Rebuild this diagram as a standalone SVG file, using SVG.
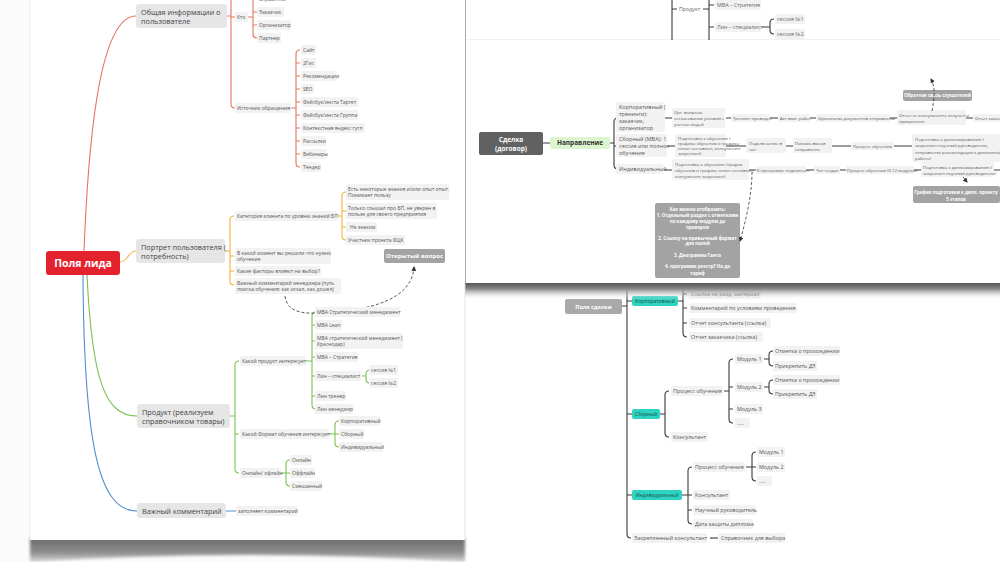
<svg xmlns="http://www.w3.org/2000/svg" width="1000" height="562" viewBox="0 0 1000 562">
<defs>
<style>
.t{font-family:"Open Sans","Liberation Sans",sans-serif}
.s5{font-size:5px;fill:#555}
.s43{font-size:4.3px;fill:#555}
.s53{font-size:5.3px;fill:#666}
.s55{font-size:5.5px;fill:#555}
.s58{font-size:5.4px;fill:#555}
.bg{fill:#f2f2f2}
.l1{fill:#e6e6e6}
.l1t{font-size:7.3px;fill:#444}
.gb{fill:#a3a3a3}
.wb{fill:#fff;font-weight:700;text-anchor:middle}
.teal{fill:#2fd3c1}
.tt{font-size:5px;fill:#1c4f4a;text-anchor:middle}
.cr{stroke:#e8765f;fill:none;stroke-width:1.1}
.cy{stroke:#f0b43c;fill:none;stroke-width:1.1}
.cg{stroke:#78c257;fill:none;stroke-width:1.1}
.cb{stroke:#4f8fcf;fill:none;stroke-width:1.1}
.ck{stroke:#3a3a3a;fill:none;stroke-width:1.1}
.dash{stroke:#333;fill:none;stroke-width:0.8;stroke-dasharray:3 2}
</style>
<marker id="arr" viewBox="0 0 10 10" refX="8" refY="5" markerWidth="6" markerHeight="6" orient="auto-start-reverse">
<path d="M0 0 L10 5 L0 10 z" fill="#333"/>
</marker>
<linearGradient id="shDown" x1="0" y1="0" x2="0" y2="1">
<stop offset="0" stop-color="#555"/>
<stop offset="0.35" stop-color="#8a8a8a"/>
<stop offset="1" stop-color="#fff" stop-opacity="0"/>
</linearGradient>
<linearGradient id="shPage" x1="0" y1="0" x2="0" y2="1">
<stop offset="0" stop-color="#6a6a6a"/>
<stop offset="0.6" stop-color="#8d8d8d"/>
<stop offset="1" stop-color="#d8d8d8"/>
</linearGradient>
<linearGradient id="shLeft" x1="0" y1="0" x2="1" y2="0">
<stop offset="0" stop-color="#fff" stop-opacity="0"/>
<stop offset="1" stop-color="#9a9a9a"/>
</linearGradient>
<filter id="blur" x="-5%" y="-50%" width="110%" height="200%"><feGaussianBlur stdDeviation="1.6"/></filter>
</defs>

<rect x="0" y="0" width="1000" height="562" fill="#fbfbfb"/>

<!-- ===== Bottom-right screenshot ===== -->
<g id="bottom-right">
<rect x="465" y="283" width="535" height="279" fill="#fff"/>
<g id="br-connectors" class="ck">
<path d="M622 306 H627 M627 283 V534 Q627 538 631 538 M627 301 H632 M627 414 H632 M627 495 H632"/>
<path d="M678 301 H683 M683 283 V333 Q683 337 687 337 M683 294 h4 M683 308 h4 M683 323 h4"/>
<path d="M660 414 H665 M669 391 Q665 391 665 395 V433 Q665 437 669 437"/>
<path d="M724 391 H729 M733 359 Q729 359 729 363 V419 Q729 423 733 423 M729 387 h4 M729 409 h4"/>
<path d="M764 359 H769 M773 351 Q769 351 769 355 V362 Q769 366 773 366"/>
<path d="M764 387 H769 M773 380 Q769 380 769 384 V390 Q769 394 773 394"/>
<path d="M682 495 H688 M692 467 Q688 467 688 471 V520 Q688 524 692 524 M688 495 h4 M688 510 h4"/>
<path d="M746 467 H752 M756 452 Q752 452 752 456 V477 Q752 481 756 481 M752 467 h4"/>
<path d="M710 538 H718"/>
</g>
<g id="n-pola-sdelki"><rect x="565" y="299" width="57" height="15" rx="2" fill="#a9a9a9"/><text class="t wb" x="593.5" y="308.5" font-size="5.5">Поля сделки</text></g>
<g id="n-br-korp"><rect class="teal" x="632" y="296" width="46" height="10" rx="2"/><text class="t tt" x="655" y="302.8">Корпоративный</text></g>
<g id="n-br-sbor"><rect class="teal" x="632" y="409" width="28" height="10" rx="2"/><text class="t tt" x="646" y="415.8">Сборный</text></g>
<g id="n-br-ind"><rect class="teal" x="632" y="490" width="50" height="10" rx="2"/><text class="t tt" x="657" y="496.8">Индивидуальный</text></g>
<g id="n-br-1"><rect class="bg" x="689" y="289" width="72" height="10" rx="1.5"/><text class="t s58" x="691" y="296">Ссылка на разд. материал</text></g>
<g id="n-br-2"><rect class="bg" x="689" y="303" width="108" height="10" rx="1.5"/><text class="t s58" x="691" y="310">Комментарий по условиям проведения</text></g>
<g id="n-br-3"><rect class="bg" x="689" y="318" width="82" height="10" rx="1.5"/><text class="t s58" x="691" y="325">Отчет консультанта (ссылка)</text></g>
<g id="n-br-4"><rect class="bg" x="689" y="332" width="74" height="10" rx="1.5"/><text class="t s58" x="691" y="339">Отчет заказчика (ссылка)</text></g>
<g id="n-br-5"><rect class="bg" x="671" y="386" width="52" height="10" rx="1.5"/><text class="t s58" x="673" y="393">Процесс обучения</text></g>
<g id="n-br-6"><rect class="bg" x="671" y="432" width="37" height="10" rx="1.5"/><text class="t s58" x="673" y="439">Консультант</text></g>
<g id="n-br-7"><rect class="bg" x="735" y="354" width="28" height="10" rx="1.5"/><text class="t s58" x="737" y="361">Модуль 1</text></g>
<g id="n-br-8"><rect class="bg" x="735" y="382" width="28" height="10" rx="1.5"/><text class="t s58" x="737" y="389">Модуль 2</text></g>
<g id="n-br-9"><rect class="bg" x="735" y="404" width="28" height="10" rx="1.5"/><text class="t s58" x="737" y="411">Модуль 3</text></g>
<g id="n-br-10"><rect class="bg" x="735" y="418" width="15" height="10" rx="1.5"/><text class="t s58" x="737" y="425">.....</text></g>
<g id="n-br-11"><rect class="bg" x="773" y="346" width="67" height="10" rx="1.5"/><text class="t s58" x="775" y="353">Отметка о прохождении</text></g>
<g id="n-br-12"><rect class="bg" x="773" y="361" width="44" height="10" rx="1.5"/><text class="t s58" x="775" y="368">Прикрепить ДЗ</text></g>
<g id="n-br-13"><rect class="bg" x="773" y="375" width="67" height="10" rx="1.5"/><text class="t s58" x="775" y="382">Отметка о прохождении</text></g>
<g id="n-br-14"><rect class="bg" x="773" y="389" width="44" height="10" rx="1.5"/><text class="t s58" x="775" y="396">Прикрепить ДЗ</text></g>
<g id="n-br-15"><rect class="bg" x="693" y="462" width="52" height="10" rx="1.5"/><text class="t s58" x="695" y="469">Процесс обучения</text></g>
<g id="n-br-16"><rect class="bg" x="757" y="447" width="28" height="10" rx="1.5"/><text class="t s58" x="759" y="454">Модуль 1</text></g>
<g id="n-br-17"><rect class="bg" x="757" y="462" width="28" height="10" rx="1.5"/><text class="t s58" x="759" y="469">Модуль 2</text></g>
<g id="n-br-18"><rect class="bg" x="757" y="476" width="15" height="10" rx="1.5"/><text class="t s58" x="759" y="483">.....</text></g>
<g id="n-br-19"><rect class="bg" x="693" y="490" width="37" height="10" rx="1.5"/><text class="t s58" x="695" y="497">Консультант</text></g>
<g id="n-br-20"><rect class="bg" x="693" y="505" width="63" height="10" rx="1.5"/><text class="t s58" x="695" y="512">Научный руководитель</text></g>
<g id="n-br-21"><rect class="bg" x="693" y="519" width="60" height="10" rx="1.5"/><text class="t s58" x="695" y="526">Дата защиты диплома</text></g>
<g id="n-br-22"><rect class="bg" x="632" y="533" width="75" height="10" rx="1.5"/><text class="t s58" x="634" y="540">Закрепленный консультант</text></g>
<g id="n-br-23"><rect class="bg" x="719" y="533" width="66" height="10" rx="1.5"/><text class="t s58" x="721" y="540">Справочник для выбора</text></g>
</g>

<!-- shadow of top-right screenshot -->
<rect x="465" y="283" width="535" height="17" fill="url(#shDown)"/>

<!-- ===== Top-right screenshot ===== -->
<g id="top-right">
<rect x="465" y="0" width="535" height="283" fill="#fff"/>
<line x1="465" y1="39.5" x2="1000" y2="39.5" stroke="#f1f1f1" stroke-width="1"/>
<rect x="459" y="0" width="7" height="283" fill="url(#shLeft)"/>
<g id="tr-connectors" class="ck" stroke-width="1">
<path d="M672 0 V40 M672 9 H677 M703 9 H709 M709 0 V40 M709 5 h5 M709 27 h5 M762 27 H770 M774 19 Q770 19 770 23 V30 Q770 34 774 34"/>
<path d="M543 143 H550 M610 143 H614 M618 118 Q614 118 614 122 V165 Q614 169 618 169 M614 146 h4"/>
<path d="M665 118 H672 M726 118 H731 M770 118 H778 M810 118 H816 M890 118 H897 M966 118 H973"/>
<path d="M668 146 H675 M726 146 H746 M786 146 H793 M832 146 H851 M894 146 H912"/>
<path d="M664 170 H672 M749 170 H756 M806 170 H814 M840 170 H846 M914 170 H921 M994 170 H1000"/>
</g>
<g id="n-tr-produkt"><text class="t s53" x="679" y="10.8">Продукт</text></g>
<g id="n-tr-mba"><rect class="bg" x="715" y="0" width="46" height="10" rx="1.5"/><text class="t s53" x="717" y="6.8">MBA – Стратегия</text></g>
<g id="n-tr-lin"><rect class="bg" x="715" y="22" width="46" height="10" rx="1.5"/><text class="t s53" x="717" y="28.8">Лин – специалист</text></g>
<g id="n-tr-s1"><rect class="bg" x="775" y="14" width="30" height="10" rx="1.5"/><text class="t s53" x="777" y="20.8">сессия №1</text></g>
<g id="n-tr-s2"><rect class="bg" x="775" y="29" width="30" height="10" rx="1.5"/><text class="t s53" x="777" y="35.8">сессия №2</text></g>

<g id="n-sdelka"><rect x="479" y="132" width="64" height="23" rx="2" fill="#616161"/><text class="t wb" x="511" y="141.5" font-size="6.5">Сделка</text><text class="t wb" x="511" y="150.5" font-size="6.5">(договор)</text></g>
<g id="n-napr"><rect x="550" y="137" width="60" height="12" rx="2" fill="#dcf5cf"/><text class="t" x="580" y="145.3" font-size="6.5" font-weight="700" fill="#333" text-anchor="middle">Направление</text></g>
<g id="n-tr-korp"><rect class="bg" x="616" y="102" width="49" height="30" rx="1.5"/><text class="t s55" x="619"><tspan x="619" y="109">Корпоративный (</tspan><tspan x="619" y="116">тренинги):</tspan><tspan x="619" y="123">заказчик,</tspan><tspan x="619" y="130">организатор</tspan></text></g>
<g id="n-tr-sbor"><rect class="bg" x="616" y="134" width="51" height="23" rx="1.5"/><text class="t s55" x="619"><tspan x="619" y="141">Сборный (MBA): 1</tspan><tspan x="619" y="148">сессия или полное</tspan><tspan x="619" y="155">обучение</tspan></text></g>
<g id="n-tr-ind"><rect class="bg" x="616" y="164" width="47" height="10" rx="1.5"/><text class="t s55" x="619" y="171">Индивидуальный</text></g>

<g id="n-r1-1"><rect class="bg" x="672" y="108" width="53" height="20" rx="1.5"/><text class="t s43"><tspan x="674" y="113.5">Орг. вопросы</tspan><tspan x="674" y="119.5">согласования условий с</tspan><tspan x="674" y="125.5">учетом людей</tspan></text></g>
<g id="n-r1-2"><rect class="bg" x="731" y="114" width="39" height="8" rx="1.5"/><text class="t s43" x="733" y="119.5">Тренинг проведен</text></g>
<g id="n-r1-3"><rect class="bg" x="778" y="114" width="32" height="8" rx="1.5"/><text class="t s43" x="780" y="119.5">Акт вып. работ</text></g>
<g id="n-r1-4"><rect class="bg" x="816" y="114" width="74" height="8" rx="1.5"/><text class="t s43" x="818" y="119.5">Оригиналы документов отправлены</text></g>
<g id="n-r1-5"><rect class="bg" x="897" y="110" width="69" height="15" rx="1.5"/><text class="t s43"><tspan x="899" y="116.5">Отчет от консультанта получен и</tspan><tspan x="899" y="122.5">прикреплен</tspan></text></g>
<g id="n-r1-6"><rect class="bg" x="973" y="114" width="30" height="8" rx="1.5"/><text class="t s43" x="975" y="119.5">Отчет заказ</text></g>

<g id="n-r2-1"><rect class="bg" x="675" y="134" width="51" height="23" rx="1.5"/><text class="t s43"><tspan x="678" y="139.5">Подготовка к обучению (</tspan><tspan x="678" y="144.5">графика обучения и графика</tspan><tspan x="678" y="149.5">оплат составлен, консультант</tspan><tspan x="678" y="154.5">закреплен)</tspan></text></g>
<g id="n-r2-2"><rect class="bg" x="746" y="138" width="40" height="15" rx="1.5"/><text class="t s43"><tspan x="749" y="144.5">Подключение в</tspan><tspan x="749" y="150.5">чат</tspan></text></g>
<g id="n-r2-3"><rect class="bg" x="793" y="138" width="39" height="15" rx="1.5"/><text class="t s43"><tspan x="795" y="144.5">Письмо-вызов</tspan><tspan x="795" y="150.5">отправлено</tspan></text></g>
<g id="n-r2-4"><rect class="bg" x="851" y="142" width="43" height="8" rx="1.5"/><text class="t s43" x="853" y="147.5">Процесс обучения</text></g>
<g id="n-r2-5"><rect class="bg" x="912" y="134" width="88" height="28" rx="1.5"/><text class="t s43"><tspan x="915" y="140.5">Подготовка к дипломированию (</tspan><tspan x="915" y="146.5">закреплен научный руководитель,</tspan><tspan x="915" y="153.5">отправлены рекомендации к дипломной</tspan><tspan x="915" y="159.5">работе)</tspan></text></g>

<g id="n-r3-1"><rect class="bg" x="672" y="159" width="77" height="21" rx="1.5"/><text class="t s43"><tspan x="675" y="165.5">Подготовка к обучению (график</tspan><tspan x="675" y="171.5">обучения и графике оплат составлен,</tspan><tspan x="675" y="177.5">консультант закреплен)</tspan></text></g>
<g id="n-r3-2"><rect class="bg" x="756" y="166" width="50" height="8" rx="1.5"/><text class="t s43" x="757" y="171.5">К программе подключен</text></g>
<g id="n-r3-3"><rect class="bg" x="814" y="166" width="26" height="8" rx="1.5"/><text class="t s43" x="816" y="171.5">Чат создан</text></g>
<g id="n-r3-4"><rect class="bg" x="846" y="166" width="68" height="8" rx="1.5"/><text class="t s43" x="847" y="171.5">Процесс обучения (9-12 модулей)</text></g>
<g id="n-r3-5"><rect class="bg" x="921" y="162" width="73" height="15" rx="1.5"/><text class="t s43"><tspan x="923" y="168.5">Подготовка к дипломированию (</tspan><tspan x="923" y="174.5">закреплен научный руководитель)</tspan></text></g>

<g id="n-feedback"><rect class="gb" x="903" y="90" width="69" height="11" rx="2"/><text class="t wb" x="937.5" y="97.3" font-size="4.5">Обратная связь слушателей</text></g>
<g id="n-grafik"><rect class="gb" x="913" y="186" width="87" height="17" rx="2"/><text class="t wb" x="956" y="193.5" font-size="4.4">График подготовки к дипл. проекту</text><text class="t wb" x="956" y="200.5" font-size="4.4">5 этапов</text></g>
<g id="n-kak"><rect class="gb" x="655" y="203" width="85" height="75" rx="2"/>
<text class="t wb" font-size="4.5"><tspan x="697.5" y="210.5">Как можно отобразить:</tspan><tspan x="697.5" y="216.5">1. Отдельный раздел с отметками</tspan><tspan x="697.5" y="222.5">по каждому модулю до</tspan><tspan x="697.5" y="228.5">проверки</tspan><tspan x="697.5" y="239.5">2. Ссылку на привычный формат</tspan><tspan x="697.5" y="245">для полей</tspan><tspan x="697.5" y="257">3. Диаграмма Ганта</tspan><tspan x="697.5" y="268">4. программа реестр? Но до</tspan><tspan x="697.5" y="274.5">тариф</tspan></text></g>
<g id="tr-dashed">
<path class="dash" d="M932 111 C934 100 936 88 931 79" marker-end="url(#arr)"/>
<path class="dash" d="M963 177 L967 182" marker-end="url(#arr)"/>
<path class="dash" d="M752 172 C752 195 746 220 740 241" marker-end="url(#arr)"/>
</g>
</g>

<!-- ===== Left page ===== -->
<g id="left-page">
<path d="M30 538 H465 V562 Q248 548 30 562 Z" fill="url(#shPage)" filter="url(#blur)"/>
<rect x="30" y="0" width="435" height="540" fill="#fff"/>
<line x1="30" y1="0" x2="30" y2="540" stroke="#e4e4e4" stroke-width="0.8"/>
<line x1="465" y1="283" x2="465" y2="540" stroke="#dcdcdc" stroke-width="0.8"/>

<g id="lp-connectors">
<path class="cr" d="M84 251 C88 150 98 16 136 16"/>
<path class="cr" d="M227 16 H231 M231 -4 V104 Q231 108 235 108 M231 17 H235 M248 17 H253 M253 -4 V34 Q253 38 257 38 M253 -1 h4 M253 12 h4 M253 25 h4"/>
<path class="cr" d="M291 108 H296 M300 50 Q296 50 296 54 V163 Q296 167 300 167 M296 63 h4 M296 76 h4 M296 89 h4 M296 102 h4 M296 115 h4 M296 128 h4 M296 141 h4 M296 154 h4"/>
<path class="cy" d="M120 262 C128 262 128 251 136 251"/>
<path class="cy" d="M225 251 H230 M234 216 Q230 216 230 220 V281 Q230 285 234 285 M230 256 h4 M230 271 h4"/>
<path class="cy" d="M337 216 H342 M346 192 Q342 192 342 196 V236 Q342 240 346 240 M342 211 h4 M342 227 h4"/>
<path class="cg" d="M87 275 C92 380 105 416 137 416"/>
<path class="cg" d="M230 416 H235 M239 361 Q235 361 235 365 V469 Q235 473 239 473 M235 434 h4"/>
<path class="cg" d="M306 361 H312 M316 312 Q312 312 312 316 V405 Q312 409 316 409 M312 325 h4 M312 341 h4 M312 357 h4 M312 376 h4 M312 396 h4"/>
<path class="cg" d="M362 376 H366 M370 370 Q366 370 366 374 V379 Q366 383 370 383"/>
<path class="cg" d="M329 434 H335 M339 421 Q335 421 335 425 V443 Q335 447 339 447 M335 434 h4"/>
<path class="cg" d="M281 473 H286 M290 460 Q286 460 286 464 V482 Q286 486 290 486 M286 473 h4"/>
<path class="cb" d="M83 275 C84 450 100 511 137 511 M226 511 H236"/>
<path class="dash" d="M285 296 C287 310 298 314 318 313 C370 311 412 300 414 267" marker-end="url(#arr)"/>
</g>

<g id="n-center"><rect x="46" y="251" width="74" height="24" rx="3" fill="#e4222d"/><text class="t" x="83" y="267" text-anchor="middle" font-size="10.5" font-weight="700" fill="#fff">Поля лида</text></g>
<g id="n-info"><rect class="l1" x="136" y="4" width="91" height="24" rx="3"/><text class="t l1t"><tspan x="141" y="14.5">Общая информации о</tspan><tspan x="141" y="24">пользователе</tspan></text></g>
<g id="n-portrait"><rect class="l1" x="136" y="239" width="89" height="24" rx="3"/><text class="t l1t"><tspan x="141" y="250">Портрет пользователя (</tspan><tspan x="141" y="259">потребность)</tspan></text></g>
<g id="n-product"><rect class="l1" x="137" y="404" width="93" height="24" rx="3"/><text class="t l1t"><tspan x="142" y="414.5">Продукт (реализуем</tspan><tspan x="142" y="424">справочником товары)</tspan></text></g>
<g id="n-comment"><rect class="l1" x="137" y="503" width="89" height="15" rx="3"/><text class="t l1t" x="142" y="513.5">Важный комментарий</text></g>

<g id="n-kto"><rect class="bg" x="235" y="12" width="13" height="10" rx="1.5"/><text class="t s5" x="237" y="18.8">Кто</text></g>
<g id="n-slush"><text class="t s5" x="259" y="1">Слушатель</text></g>
<g id="n-zak"><rect class="bg" x="257" y="7" width="27" height="10" rx="1.5"/><text class="t s5" x="259" y="13.8">Заказчик</text></g>
<g id="n-org"><rect class="bg" x="257" y="20" width="34" height="10" rx="1.5"/><text class="t s5" x="259" y="26.8">Организатор</text></g>
<g id="n-part"><rect class="bg" x="257" y="33" width="24" height="10" rx="1.5"/><text class="t s5" x="259" y="39.8">Партнер</text></g>
<g id="n-ist"><rect class="bg" x="235" y="103" width="56" height="10" rx="1.5"/><text class="t s5" x="237" y="109.8">Источник обращения</text></g>
<g id="n-s1"><rect class="bg" x="301" y="45" width="15" height="10" rx="1.5"/><text class="t s5" x="303" y="51.8">Сайт</text></g>
<g id="n-s2"><rect class="bg" x="301" y="58" width="15" height="10" rx="1.5"/><text class="t s5" x="303" y="64.8">2Гис</text></g>
<g id="n-s3"><rect class="bg" x="301" y="71" width="36" height="10" rx="1.5"/><text class="t s5" x="303" y="77.8">Рекомендации</text></g>
<g id="n-s4"><rect class="bg" x="301" y="84" width="13" height="10" rx="1.5"/><text class="t s5" x="303" y="90.8">SEO</text></g>
<g id="n-s5"><rect class="bg" x="301" y="97" width="57" height="10" rx="1.5"/><text class="t s5" x="303" y="103.8">Фэйсбук/инста Таргет</text></g>
<g id="n-s6"><rect class="bg" x="301" y="110" width="57" height="10" rx="1.5"/><text class="t s5" x="303" y="116.8">Фэйсбук/инста Группа</text></g>
<g id="n-s7"><rect class="bg" x="301" y="123" width="64" height="10" rx="1.5"/><text class="t s5" x="303" y="129.8">Контекстная яндекс гугл</text></g>
<g id="n-s8"><rect class="bg" x="301" y="136" width="25" height="10" rx="1.5"/><text class="t s5" x="303" y="142.8">Рассылки</text></g>
<g id="n-s9"><rect class="bg" x="301" y="149" width="26" height="10" rx="1.5"/><text class="t s5" x="303" y="155.8">Вебинары</text></g>
<g id="n-s10"><rect class="bg" x="301" y="162" width="20" height="10" rx="1.5"/><text class="t s5" x="303" y="168.8">Тендер</text></g>

<g id="n-kat"><rect class="bg" x="235" y="211" width="102" height="10" rx="1.5"/><text class="t s5" x="237" y="217.8">Категория клиента по уровню знаний БП</text></g>
<g id="n-k1"><rect class="bg" x="346" y="184" width="103" height="16" rx="1.5"/><text class="t s5"><tspan x="348" y="190.8">Есть некоторые знания и/или опыт опыт.</tspan><tspan x="348" y="197.3">Понимает пользу</tspan></text></g>
<g id="n-k2"><rect class="bg" x="346" y="203" width="91" height="16" rx="1.5"/><text class="t s5"><tspan x="348" y="209.8">Только слышал про БП, не уверен в</tspan><tspan x="348" y="216.3">пользе для своего предприятия</tspan></text></g>
<g id="n-k3"><rect class="bg" x="346" y="222" width="31" height="10" rx="1.5"/><text class="t s5" x="350" y="228.8">Не знаком</text></g>
<g id="n-k4"><rect class="bg" x="346" y="235" width="59" height="10" rx="1.5"/><text class="t s5" x="348" y="241.8">Участник проекта ФЦК</text></g>
<g id="n-moment"><rect class="bg" x="235" y="248" width="96" height="16" rx="1.5"/><text class="t s5"><tspan x="237" y="254.8">В какой момент вы решили что нужно</tspan><tspan x="237" y="261.3">обучение</tspan></text></g>
<g id="n-factors"><rect class="bg" x="235" y="266" width="86" height="10" rx="1.5"/><text class="t s5" x="237" y="272.8">Какие факторы влияют на выбор?</text></g>
<g id="n-manager"><rect class="bg" x="235" y="278" width="106" height="16" rx="1.5"/><text class="t s5"><tspan x="237" y="284.8">Важный комментарий менеджера (путь</tspan><tspan x="237" y="291.3">поиска обучения: как искал, как дошел)</tspan></text></g>
<g id="n-open"><rect class="gb" x="384" y="249" width="61" height="14" rx="2"/><text class="t wb" x="414.5" y="258.2" font-size="6">Открытый вопрос</text></g>

<g id="n-prod-q"><rect class="bg" x="240" y="356" width="66" height="10" rx="1.5"/><text class="t s5" x="242" y="362.8">Какой продукт интересует</text></g>
<g id="n-p1"><rect class="bg" x="315" y="307" width="85" height="10" rx="1.5"/><text class="t s5" x="317" y="313.8">MBA Стратегический менеджмент</text></g>
<g id="n-p2"><rect class="bg" x="315" y="320" width="27" height="10" rx="1.5"/><text class="t s5" x="317" y="326.8">MBA Lean</text></g>
<g id="n-p3"><rect class="bg" x="315" y="333" width="88" height="16" rx="1.5"/><text class="t s5"><tspan x="317" y="339.8">MBA стратегический менеджмент (</tspan><tspan x="317" y="346.3">Краснодар)</tspan></text></g>
<g id="n-p4"><rect class="bg" x="315" y="352" width="43" height="10" rx="1.5"/><text class="t s5" x="317" y="358.8">MBA – Стратегия</text></g>
<g id="n-p5"><rect class="bg" x="315" y="371" width="46" height="10" rx="1.5"/><text class="t s5" x="317" y="377.8">Лин – специалист</text></g>
<g id="n-p5a"><rect class="bg" x="369" y="365" width="29" height="10" rx="1.5"/><text class="t s5" x="371" y="371.8">сессия №1</text></g>
<g id="n-p5b"><rect class="bg" x="369" y="378" width="29" height="10" rx="1.5"/><text class="t s5" x="371" y="384.8">сессия №2</text></g>
<g id="n-p6"><rect class="bg" x="315" y="391" width="31" height="10" rx="1.5"/><text class="t s5" x="317" y="397.8">Лин тренер</text></g>
<g id="n-p7"><rect class="bg" x="315" y="404" width="38" height="10" rx="1.5"/><text class="t s5" x="317" y="410.8">Лин менеджер</text></g>
<g id="n-format"><rect class="bg" x="240" y="429" width="89" height="10" rx="1.5"/><text class="t s5" x="242" y="435.8">Какой Формат обучения интересует</text></g>
<g id="n-f1"><rect class="bg" x="339" y="416" width="41" height="10" rx="1.5"/><text class="t s5" x="341" y="422.8">Корпоративный</text></g>
<g id="n-f2"><rect class="bg" x="339" y="429" width="25" height="10" rx="1.5"/><text class="t s5" x="341" y="435.8">Сборный</text></g>
<g id="n-f3"><rect class="bg" x="339" y="442" width="44" height="10" rx="1.5"/><text class="t s5" x="341" y="448.8">Индивидуальный</text></g>
<g id="n-online"><rect class="bg" x="240" y="468" width="41" height="10" rx="1.5"/><text class="t s5" x="242" y="474.8">Онлайн/ офлайн</text></g>
<g id="n-o1"><rect class="bg" x="290" y="455" width="22" height="10" rx="1.5"/><text class="t s5" x="292" y="461.8">Онлайн</text></g>
<g id="n-o2"><rect class="bg" x="290" y="468" width="25" height="10" rx="1.5"/><text class="t s5" x="292" y="474.8">Оффлайн</text></g>
<g id="n-o3"><rect class="bg" x="290" y="481" width="32" height="10" rx="1.5"/><text class="t s5" x="292" y="487.8">Смешанный</text></g>
<g id="n-fill"><rect class="bg" x="236" y="506" width="61" height="10" rx="1.5"/><text class="t s5" x="238" y="512.8">заполняет комментарий</text></g>
</g>
</svg>
